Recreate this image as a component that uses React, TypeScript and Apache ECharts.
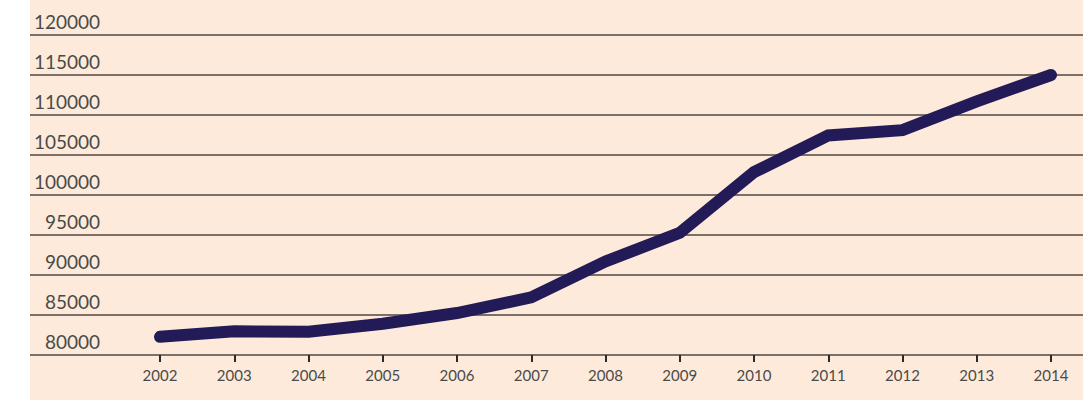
import React, { useEffect, useRef } from "react";
import * as echarts from "echarts";

const years = ["2002", "2003", "2004", "2005", "2006", "2007", "2008", "2009", "2010", "2011", "2012", "2013", "2014"];
const values = [82270, 82970, 82900, 83900, 85250, 87200, 91700, 95270, 102850, 107450, 108100, 111700, 115000];
const yMin = 80000;
const yMax = 120000;
const yStep = 5000;

export default function App() {
  const ref = useRef<HTMLDivElement>(null);
  useEffect(() => {
    if (!ref.current) return;
    const chart = echarts.init(ref.current, null, { renderer: "svg" });
    chart.setOption({
      animation: false,
      backgroundColor: "transparent",
      grid: [
        { left: 30, right: 0, top: 35, height: 320 },
        { left: 160, right: 32, top: 35, height: 320 },
      ],
      xAxis: [
        { type: "value", gridIndex: 0, show: false, min: 0, max: 1 },
        {
          type: "category",
          gridIndex: 1,
          data: years,
          boundaryGap: false,
          axisLine: { show: false },
          axisTick: { show: true, length: 7, lineStyle: { color: "#2a2a2a", width: 2 } },
          axisLabel: { fontFamily: "Lato", fontSize: 15, color: "#4a4a4a", margin: 12 },
          splitLine: { show: false },
        },
      ],
      yAxis: [
        {
          type: "value",
          gridIndex: 0,
          min: yMin,
          max: yMax,
          interval: yStep,
          axisLine: { show: false },
          axisTick: { show: false },
          splitLine: { show: true, lineStyle: { color: "#7b7068", width: 2 } },
          axisLabel: {
            fontFamily: "Lato",
            fontSize: 19,
            color: "#4a4a4a",
            align: "right",
            verticalAlign: "bottom",
            margin: -70,
            padding: [0, 0, 4, 0],
            formatter: (v: number) => String(v),
          },
        },
        { type: "value", gridIndex: 1, min: yMin, max: yMax, interval: yStep, show: false, splitLine: { show: false } },
      ],
      series: [
        {
          type: "line",
          xAxisIndex: 1,
          yAxisIndex: 1,
          data: values,
          showSymbol: false,
          symbol: "none",
          lineStyle: { color: "#221B58", width: 12, cap: "round", join: "miter" },
        },
      ],
    });
    return () => chart.dispose();
  }, []);
  return (
    <div
      style={{
        position: "fixed",
        left: 0,
        top: 0,
        width: 1083,
        height: 400,
        background: "linear-gradient(to right, #ffffff 30px, #FEEADA 30px)",
      }}
    >
      <div ref={ref} style={{ width: 1083, height: 400 }} />
    </div>
  );
}
